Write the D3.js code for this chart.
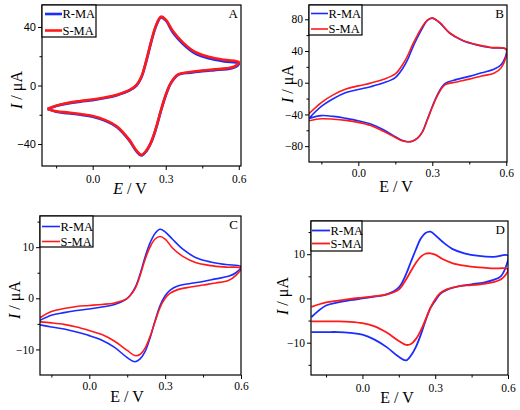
<!DOCTYPE html>
<html><head><meta charset="utf-8">
<script src="https://cdn.jsdelivr.net/npm/d3@7"></script>
<style>body{margin:0;background:#fff}svg{display:block}</style>
</head><body>
<svg id="c" width="520" height="410"></svg>
<script>
// ---------- data ----------
const seriesNames = ["R-MA", "S-MA"];
const panelLetters = ["A", "B", "C", "D"];
const xTickValues = [0, 0.3, 0.6];
const xMinorValues = [-0.15, 0.15, 0.45];

// Panel A
const eFwdA = [-0.185,-0.15,-0.1,-0.05,0,0.05,0.1,0.15,0.18,0.2,0.22,0.24,0.26,0.28,0.3,0.33,0.37,0.42,0.48,0.54,0.6];
const iFwdA_R = [-16,-14,-12.2,-11,-10,-8.6,-6.6,-3.5,0,5.5,16.5,29.5,40.5,46.5,44.5,36,28.5,22,18.5,16.5,15];
const iFwdA_S = [-16,-13.8,-11.8,-10.6,-9.6,-8.2,-6.3,-3.2,0.5,6,17,30,41,47,45,37,29.5,23,19.5,17.5,16];
const eRevA = [0.6,0.58,0.55,0.5,0.45,0.4,0.35,0.32,0.3,0.28,0.26,0.24,0.22,0.2,0.18,0.15,0.1,0.05,0,-0.05,-0.1,-0.15,-0.185];
const iRevA_R = [15,12.2,11.2,10.5,9.8,8.8,7.2,1.2,-6.8,-17.5,-29.5,-39,-45,-47.8,-45,-37.5,-28.5,-24,-21.3,-20,-19,-18,-16];
const iRevA_S = [16,12.8,11.8,11,10.2,9.2,7.5,1.5,-6.5,-17,-29,-38.5,-44.5,-47.3,-44.5,-37,-28,-23.5,-20.8,-19.5,-18.5,-17.6,-16];
const yTicksA = [-40, 0, 40];
const yMinorA = [-20, 20];

// Panel B
const eFwdB = [-0.2,-0.15,-0.1,-0.05,0,0.05,0.1,0.15,0.18,0.2,0.22,0.24,0.26,0.28,0.3,0.33,0.37,0.42,0.48,0.54,0.6];
const iFwdB_R = [-45,-30,-20,-12.5,-8.5,-5,-0.5,6.5,18,29,44,57,69,78.5,81.5,75.5,62.5,53.5,47.5,44,42];
const iFwdB_S = [-39,-25,-15,-8,-4,-0.5,4,11,23,34,48,60,71,79,81.5,76,63,54,48,44.5,42];
const eRevB = [0.6,0.58,0.55,0.5,0.45,0.4,0.35,0.32,0.3,0.28,0.26,0.24,0.22,0.2,0.18,0.15,0.1,0.05,0,-0.05,-0.1,-0.15,-0.2];
const iRevB_R = [42,23,17,12.5,8,4.2,-1.5,-15.6,-30,-46,-62,-70,-73.7,-74.5,-73,-68,-59,-52,-48,-45,-42.5,-41.5,-45];
const iRevB_S = [42,19,12,8.5,4.5,1,-3,-17,-31,-47,-62,-70,-73.5,-74.5,-73.5,-69,-61,-54,-50,-47.5,-46,-45.5,-48];
const yTicksB = [-80, -40, 0, 40, 80];
const yMinorB = [-60, -20, 20, 60];

// Panel C
const eFwdC = [-0.195,-0.15,-0.1,-0.05,0,0.05,0.1,0.15,0.18,0.2,0.22,0.24,0.26,0.28,0.3,0.33,0.37,0.42,0.48,0.54,0.6];
const iFwdC_R = [-4.3,-3.3,-2.8,-2.4,-2.1,-1.7,-1.2,0,2,4.6,8,10.8,12.7,13.5,13,11.5,9.6,8,7.1,6.6,6.2];
const iFwdC_S = [-3.8,-2.6,-2,-1.6,-1.4,-1.2,-0.9,0,1.8,4.3,7.5,10,11.6,12.1,11.6,9.8,8.2,7,6.4,6.1,5.9];
const eRevC = [0.6,0.58,0.55,0.5,0.45,0.4,0.35,0.32,0.3,0.28,0.26,0.24,0.22,0.2,0.18,0.15,0.1,0.05,0,-0.05,-0.1,-0.15,-0.195];
const iRevC_R = [6.2,5,4.3,3.8,3.3,2.9,2.4,1.6,0.5,-1.4,-4.4,-7.8,-10.5,-11.9,-12.4,-11.6,-9.6,-8.2,-7.3,-6.6,-6,-5.6,-5.2];
const iRevC_S = [5.9,4.5,3.5,3,2.6,2.2,1.7,1,0,-1.8,-4.6,-7.5,-9.8,-11,-11.2,-10.2,-8.4,-7.1,-6.3,-5.6,-5.1,-4.8,-4.6];
const yTicksC = [-10, 0, 10];
const yMinorC = [-5, 5, 15];

// Panel D
const eFwdD = [-0.21,-0.15,-0.1,-0.05,0,0.05,0.1,0.15,0.18,0.2,0.22,0.24,0.26,0.28,0.3,0.33,0.37,0.42,0.48,0.54,0.6];
const iFwdD_R = [-4.2,-1.6,-0.9,-0.4,0,0.4,0.9,2.5,5.5,8.3,11,13.5,14.8,15.1,14.3,12.8,11.2,10.2,9.6,9.4,9.7];
const iFwdD_S = [-1.9,-0.9,-0.5,-0.1,0.2,0.5,0.9,2,4.3,6.2,8,9.4,10.1,10.2,9.9,8.9,8,7.4,7,6.8,6.6];
const eRevD = [0.6,0.59,0.57,0.54,0.5,0.45,0.4,0.35,0.32,0.3,0.28,0.26,0.24,0.22,0.2,0.18,0.15,0.1,0.05,0,-0.05,-0.1,-0.15,-0.21];
const iRevD_R = [9.7,7,5,4.2,3.6,3.2,2.8,2,1,-0.5,-2.2,-5,-8.3,-11,-12.9,-14,-13.2,-11,-9.3,-8.2,-7.8,-7.6,-7.6,-7.6];
const iRevD_S = [6.6,5.3,4.3,3.7,3.3,3,2.8,2.1,1.2,-0.2,-2.2,-4.8,-7.3,-9.2,-10.3,-10.5,-9.6,-7.7,-6.3,-5.6,-5.3,-5.2,-5.2,-5.2];
const yTicksD = [-10, 0, 10];
const yMinorD = [-15, -5, 5, 15];

// ---------- layout ----------
const colors = ["#1a2cff", "#ff1a1a"];
const panels = [
  {letter:panelLetters[0], box:[42,241,5,166], xDom:[-0.208,0.609], yDom:[-55,55],
   fwd:eFwdA, rev:eRevA, I:[[iFwdA_R,iRevA_R],[iFwdA_S,iRevA_S]], yT:yTicksA, yM:yMinorA,
   lw:2.6, italicE:true, ySans:true, xt:[130,194], yt:[17,90], leg:[42,96,5,37,14,30.5,45,62], tickBase:15},
  {letter:panelLetters[1], box:[309,507,5,162], xDom:[-0.2,0.603], yDom:[-100,98],
   fwd:eFwdB, rev:eRevB, I:[[iFwdB_R,iRevB_R],[iFwdB_S,iRevB_S]], yT:yTicksB, yM:yMinorB,
   lw:1.6, italicE:false, ySans:false, xt:[396,192], yt:[288,84], leg:[309,362,5,35,13.5,29,311,328], tickBase:13},
  {letter:panelLetters[2], box:[40,241,216,375], xDom:[-0.195,0.6], yDom:[-15,16.1],
   fwd:eFwdC, rev:eRevC, I:[[iFwdC_R,iRevC_R],[iFwdC_S,iRevC_S]], yT:yTicksC, yM:yMinorC,
   lw:1.6, italicE:false, ySans:false, xt:[127,402], yt:[15,300], leg:[40,93,216,247,226.5,241.5,42,60], tickBase:13},
  {letter:panelLetters[3], box:[311,508,221,375], xDom:[-0.212,0.6], yDom:[-17.3,17.5],
   fwd:eFwdD, rev:eRevD, I:[[iFwdD_R,iRevD_R],[iFwdD_S,iRevD_S]], yT:yTicksD, yM:yMinorD,
   lw:1.8, italicE:false, ySans:false, xt:[397,403], yt:[283,296], leg:[311,362,221,251,230.5,243.5,312,330], tickBase:15}
];

const svg = d3.select("#c");
const serif = "'Liberation Serif','Times New Roman',serif";
const sans = "'Liberation Sans',Arial,sans-serif";

panels.forEach((p, pi) => {
  const [x0,x1,y0,y1] = p.box;
  const x = d3.scaleLinear().domain(p.xDom).range([x0,x1]);
  const y = d3.scaleLinear().domain(p.yDom).range([y1,y0]);
  const g = svg.append("g");

  const clipId = "clip"+pi;
  svg.append("clipPath").attr("id", clipId).append("rect")
    .attr("x", x0).attr("y", y0).attr("width", x1-x0).attr("height", y1-y0);

  const line = d3.line().x(d=>x(d[0])).y(d=>y(d[1])).curve(d3.curveCatmullRom.alpha(0.5));
  p.I.forEach((pair, si) => {
    const pts = p.fwd.map((e,i)=>[e, pair[0][i]]).concat(p.rev.slice(1).map((e,i)=>[e, pair[1][i+1]]));
    g.append("path").attr("d", line(pts)).attr("fill","none")
      .attr("stroke", colors[si]).attr("stroke-width", p.lw)
      .attr("stroke-linejoin","round").attr("clip-path", `url(#${clipId})`);
  });

  // frame
  g.append("rect").attr("x",x0).attr("y",y0).attr("width",x1-x0).attr("height",y1-y0)
    .attr("fill","none").attr("stroke","#000").attr("stroke-width",1.2);

  // x axis
  const xa = g.append("g").attr("transform",`translate(0,${y1})`)
    .call(d3.axisBottom(x).tickValues(xTickValues).tickSize(4).tickPadding(p.tickBase-10).tickFormat(d3.format(".1f")));
  xa.select(".domain").remove();
  xa.selectAll("text").attr("font-family", serif).attr("font-size", 11.5).attr("fill","#000");
  const xm = g.append("g").attr("transform",`translate(0,${y1})`)
    .call(d3.axisBottom(x).tickValues(xMinorValues).tickSize(2.5).tickFormat(""));
  xm.select(".domain").remove();

  // y axis
  const ya = g.append("g").attr("transform",`translate(${x0},0)`)
    .call(d3.axisLeft(y).tickValues(p.yT).tickSize(4).tickPadding(2).tickFormat(d3.format("d")));
  ya.select(".domain").remove();
  ya.selectAll("text").attr("font-family", p.ySans ? sans : serif).attr("font-size", p.ySans ? 11 : 11.5).attr("fill","#000");
  const ym = g.append("g").attr("transform",`translate(${x0},0)`)
    .call(d3.axisLeft(y).tickValues(p.yM).tickSize(2.5).tickFormat(""));
  ym.select(".domain").remove();

  // axis titles
  const xt = g.append("text").attr("x", p.xt[0]).attr("y", p.xt[1]).attr("text-anchor","middle")
    .attr("font-family", serif).attr("font-size", 16);
  xt.append("tspan").attr("font-style", p.italicE ? "italic" : "normal").text("E");
  xt.append("tspan").text(" / V");

  const yt = g.append("text").attr("transform", `translate(${p.yt[0]+5},${p.yt[1]}) rotate(-90)`)
    .attr("text-anchor","middle").attr("font-family", serif).attr("font-size", 16);
  yt.append("tspan").attr("font-style","italic").text("I");
  yt.append("tspan").text(" / μA");

  // panel letter
  g.append("text").attr("x", x1-3).attr("y", y0+13).attr("text-anchor","end")
    .attr("font-family", serif).attr("font-size", 13).text(p.letter);

  // legend
  const [lx0,lx1,ly0,ly1,r1,r2,ls0,ls1] = p.leg;
  g.append("rect").attr("x",lx0).attr("y",ly0).attr("width",lx1-lx0).attr("height",ly1-ly0)
    .attr("fill","#fff").attr("stroke","#000").attr("stroke-width",1.2);
  [r1,r2].forEach((ry, si) => {
    g.append("line").attr("x1",ls0).attr("x2",ls1).attr("y1",ry).attr("y2",ry)
      .attr("stroke",colors[si]).attr("stroke-width", p.lw);
    g.append("text").attr("x", ls1+0.5).attr("y", ry+4.3).attr("font-family", serif)
      .attr("font-size", 12.5).text(seriesNames[si]);
  });
});
</script>
</body></html>
